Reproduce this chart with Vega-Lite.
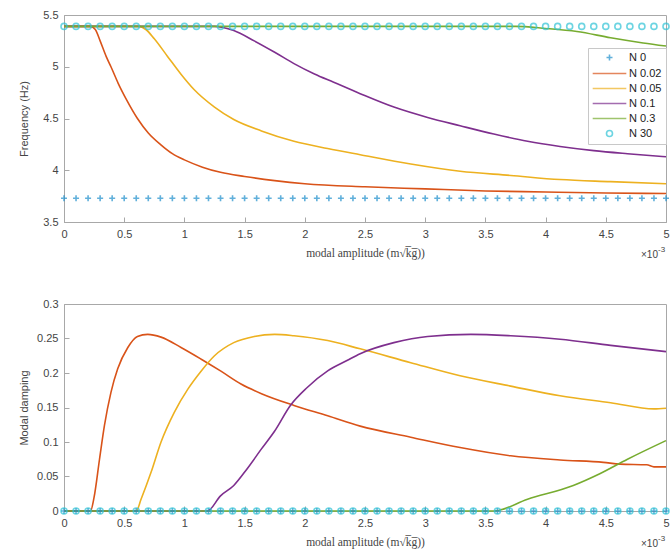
{
  "$schema": "https://vega.github.io/schema/vega-lite/v6.json",
  "background": "white",
  "padding": {"top": 8, "left": 17, "right": 5, "bottom": 5},
  "bounds": "flush",
  "spacing": 82,
  "datasets": {
    "freq": [
      {"x": 0, "s": "N 0.02", "f": 5.39}, {"x": 0.22, "s": "N 0.02", "f": 5.39}, {"x": 0.26, "s": "N 0.02", "f": 5.36}, {"x": 0.3, "s": "N 0.02", "f": 5.25}, {"x": 0.35, "s": "N 0.02", "f": 5.1}, {"x": 0.39, "s": "N 0.02", "f": 5.0}, {"x": 0.45, "s": "N 0.02", "f": 4.84}, {"x": 0.52, "s": "N 0.02", "f": 4.68}, {"x": 0.61, "s": "N 0.02", "f": 4.5}, {"x": 0.7, "s": "N 0.02", "f": 4.36}, {"x": 0.8, "s": "N 0.02", "f": 4.25}, {"x": 0.9, "s": "N 0.02", "f": 4.16}, {"x": 1.0, "s": "N 0.02", "f": 4.1}, {"x": 1.15, "s": "N 0.02", "f": 4.03}, {"x": 1.3, "s": "N 0.02", "f": 3.98}, {"x": 1.5, "s": "N 0.02", "f": 3.94}, {"x": 1.75, "s": "N 0.02", "f": 3.9}, {"x": 2.0, "s": "N 0.02", "f": 3.87}, {"x": 2.5, "s": "N 0.02", "f": 3.84}, {"x": 3.0, "s": "N 0.02", "f": 3.82}, {"x": 3.5, "s": "N 0.02", "f": 3.8}, {"x": 4.0, "s": "N 0.02", "f": 3.79}, {"x": 4.5, "s": "N 0.02", "f": 3.78}, {"x": 5.0, "s": "N 0.02", "f": 3.775},
      {"x": 0, "s": "N 0.05", "f": 5.39}, {"x": 0.62, "s": "N 0.05", "f": 5.39}, {"x": 0.68, "s": "N 0.05", "f": 5.36}, {"x": 0.75, "s": "N 0.05", "f": 5.27}, {"x": 0.86, "s": "N 0.05", "f": 5.1}, {"x": 0.97, "s": "N 0.05", "f": 4.93}, {"x": 1.08, "s": "N 0.05", "f": 4.78}, {"x": 1.25, "s": "N 0.05", "f": 4.61}, {"x": 1.41, "s": "N 0.05", "f": 4.49}, {"x": 1.64, "s": "N 0.05", "f": 4.38}, {"x": 1.91, "s": "N 0.05", "f": 4.28}, {"x": 2.19, "s": "N 0.05", "f": 4.21}, {"x": 2.46, "s": "N 0.05", "f": 4.15}, {"x": 2.88, "s": "N 0.05", "f": 4.06}, {"x": 3.29, "s": "N 0.05", "f": 3.99}, {"x": 3.71, "s": "N 0.05", "f": 3.95}, {"x": 4.12, "s": "N 0.05", "f": 3.91}, {"x": 4.54, "s": "N 0.05", "f": 3.89}, {"x": 5.0, "s": "N 0.05", "f": 3.87},
      {"x": 0, "s": "N 0.1", "f": 5.39}, {"x": 1.25, "s": "N 0.1", "f": 5.39}, {"x": 1.32, "s": "N 0.1", "f": 5.38}, {"x": 1.41, "s": "N 0.1", "f": 5.35}, {"x": 1.58, "s": "N 0.1", "f": 5.25}, {"x": 1.75, "s": "N 0.1", "f": 5.14}, {"x": 1.91, "s": "N 0.1", "f": 5.03}, {"x": 2.08, "s": "N 0.1", "f": 4.93}, {"x": 2.24, "s": "N 0.1", "f": 4.85}, {"x": 2.46, "s": "N 0.1", "f": 4.74}, {"x": 2.74, "s": "N 0.1", "f": 4.61}, {"x": 3.02, "s": "N 0.1", "f": 4.51}, {"x": 3.29, "s": "N 0.1", "f": 4.43}, {"x": 3.57, "s": "N 0.1", "f": 4.35}, {"x": 3.85, "s": "N 0.1", "f": 4.28}, {"x": 4.12, "s": "N 0.1", "f": 4.23}, {"x": 4.4, "s": "N 0.1", "f": 4.19}, {"x": 4.68, "s": "N 0.1", "f": 4.16}, {"x": 5.0, "s": "N 0.1", "f": 4.13},
      {"x": 0, "s": "N 0.3", "f": 5.39}, {"x": 3.75, "s": "N 0.3", "f": 5.39}, {"x": 4.0, "s": "N 0.3", "f": 5.37}, {"x": 4.26, "s": "N 0.3", "f": 5.34}, {"x": 4.54, "s": "N 0.3", "f": 5.28}, {"x": 4.81, "s": "N 0.3", "f": 5.23}, {"x": 5.0, "s": "N 0.3", "f": 5.2}
    ],
    "damp": [
      {"x": 0, "s": "N 0.02", "d": 0}, {"x": 0.22, "s": "N 0.02", "d": 0}, {"x": 0.25, "s": "N 0.02", "d": 0.02}, {"x": 0.295, "s": "N 0.02", "d": 0.075}, {"x": 0.336, "s": "N 0.02", "d": 0.124}, {"x": 0.39, "s": "N 0.02", "d": 0.172}, {"x": 0.446, "s": "N 0.02", "d": 0.206}, {"x": 0.53, "s": "N 0.02", "d": 0.237}, {"x": 0.61, "s": "N 0.02", "d": 0.253}, {"x": 0.695, "s": "N 0.02", "d": 0.256}, {"x": 0.806, "s": "N 0.02", "d": 0.252}, {"x": 0.972, "s": "N 0.02", "d": 0.237}, {"x": 1.14, "s": "N 0.02", "d": 0.22}, {"x": 1.3, "s": "N 0.02", "d": 0.203}, {"x": 1.47, "s": "N 0.02", "d": 0.184}, {"x": 1.64, "s": "N 0.02", "d": 0.17}, {"x": 1.91, "s": "N 0.02", "d": 0.153}, {"x": 2.19, "s": "N 0.02", "d": 0.138}, {"x": 2.46, "s": "N 0.02", "d": 0.123}, {"x": 2.88, "s": "N 0.02", "d": 0.107}, {"x": 3.29, "s": "N 0.02", "d": 0.092}, {"x": 3.71, "s": "N 0.02", "d": 0.08}, {"x": 4.12, "s": "N 0.02", "d": 0.074}, {"x": 4.48, "s": "N 0.02", "d": 0.0705}, {"x": 4.62, "s": "N 0.02", "d": 0.068}, {"x": 4.84, "s": "N 0.02", "d": 0.067}, {"x": 4.9, "s": "N 0.02", "d": 0.064}, {"x": 5.0, "s": "N 0.02", "d": 0.064},
      {"x": 0, "s": "N 0.05", "d": 0}, {"x": 0.6, "s": "N 0.05", "d": 0}, {"x": 0.64, "s": "N 0.05", "d": 0.017}, {"x": 0.723, "s": "N 0.05", "d": 0.056}, {"x": 0.806, "s": "N 0.05", "d": 0.1}, {"x": 0.916, "s": "N 0.05", "d": 0.143}, {"x": 1.03, "s": "N 0.05", "d": 0.177}, {"x": 1.14, "s": "N 0.05", "d": 0.203}, {"x": 1.25, "s": "N 0.05", "d": 0.225}, {"x": 1.41, "s": "N 0.05", "d": 0.244}, {"x": 1.58, "s": "N 0.05", "d": 0.253}, {"x": 1.75, "s": "N 0.05", "d": 0.256}, {"x": 1.91, "s": "N 0.05", "d": 0.254}, {"x": 2.19, "s": "N 0.05", "d": 0.247}, {"x": 2.46, "s": "N 0.05", "d": 0.235}, {"x": 2.88, "s": "N 0.05", "d": 0.215}, {"x": 3.29, "s": "N 0.05", "d": 0.196}, {"x": 3.71, "s": "N 0.05", "d": 0.181}, {"x": 4.12, "s": "N 0.05", "d": 0.167}, {"x": 4.54, "s": "N 0.05", "d": 0.157}, {"x": 4.9, "s": "N 0.05", "d": 0.148}, {"x": 5.0, "s": "N 0.05", "d": 0.149},
      {"x": 0, "s": "N 0.1", "d": 0}, {"x": 1.19, "s": "N 0.1", "d": 0}, {"x": 1.3, "s": "N 0.1", "d": 0.022}, {"x": 1.41, "s": "N 0.1", "d": 0.037}, {"x": 1.52, "s": "N 0.1", "d": 0.061}, {"x": 1.64, "s": "N 0.1", "d": 0.09}, {"x": 1.75, "s": "N 0.1", "d": 0.116}, {"x": 1.88, "s": "N 0.1", "d": 0.153}, {"x": 2.02, "s": "N 0.1", "d": 0.179}, {"x": 2.19, "s": "N 0.1", "d": 0.203}, {"x": 2.35, "s": "N 0.1", "d": 0.218}, {"x": 2.46, "s": "N 0.1", "d": 0.228}, {"x": 2.74, "s": "N 0.1", "d": 0.244}, {"x": 3.02, "s": "N 0.1", "d": 0.253}, {"x": 3.38, "s": "N 0.1", "d": 0.256}, {"x": 3.71, "s": "N 0.1", "d": 0.254}, {"x": 4.12, "s": "N 0.1", "d": 0.249}, {"x": 4.54, "s": "N 0.1", "d": 0.24}, {"x": 5.0, "s": "N 0.1", "d": 0.231},
      {"x": 0, "s": "N 0.3", "d": 0}, {"x": 3.57, "s": "N 0.3", "d": 0}, {"x": 3.85, "s": "N 0.3", "d": 0.017}, {"x": 4.23, "s": "N 0.3", "d": 0.037}, {"x": 4.45, "s": "N 0.3", "d": 0.054}, {"x": 4.68, "s": "N 0.3", "d": 0.075}, {"x": 5.0, "s": "N 0.3", "d": 0.102}
    ],
    "markers": [
      {"x": 0, "s": "N 0", "f": 3.73, "d": 0}, {"x": 0.1, "s": "N 0", "f": 3.73, "d": 0}, {"x": 0.2, "s": "N 0", "f": 3.73, "d": 0}, {"x": 0.3, "s": "N 0", "f": 3.73, "d": 0}, {"x": 0.4, "s": "N 0", "f": 3.73, "d": 0}, {"x": 0.5, "s": "N 0", "f": 3.73, "d": 0}, {"x": 0.6, "s": "N 0", "f": 3.73, "d": 0}, {"x": 0.7, "s": "N 0", "f": 3.73, "d": 0}, {"x": 0.8, "s": "N 0", "f": 3.73, "d": 0}, {"x": 0.9, "s": "N 0", "f": 3.73, "d": 0},
      {"x": 1.0, "s": "N 0", "f": 3.73, "d": 0}, {"x": 1.1, "s": "N 0", "f": 3.73, "d": 0}, {"x": 1.2, "s": "N 0", "f": 3.73, "d": 0}, {"x": 1.3, "s": "N 0", "f": 3.73, "d": 0}, {"x": 1.4, "s": "N 0", "f": 3.73, "d": 0}, {"x": 1.5, "s": "N 0", "f": 3.73, "d": 0}, {"x": 1.6, "s": "N 0", "f": 3.73, "d": 0}, {"x": 1.7, "s": "N 0", "f": 3.73, "d": 0}, {"x": 1.8, "s": "N 0", "f": 3.73, "d": 0}, {"x": 1.9, "s": "N 0", "f": 3.73, "d": 0},
      {"x": 2.0, "s": "N 0", "f": 3.73, "d": 0}, {"x": 2.1, "s": "N 0", "f": 3.73, "d": 0}, {"x": 2.2, "s": "N 0", "f": 3.73, "d": 0}, {"x": 2.3, "s": "N 0", "f": 3.73, "d": 0}, {"x": 2.4, "s": "N 0", "f": 3.73, "d": 0}, {"x": 2.5, "s": "N 0", "f": 3.73, "d": 0}, {"x": 2.6, "s": "N 0", "f": 3.73, "d": 0}, {"x": 2.7, "s": "N 0", "f": 3.73, "d": 0}, {"x": 2.8, "s": "N 0", "f": 3.73, "d": 0}, {"x": 2.9, "s": "N 0", "f": 3.73, "d": 0},
      {"x": 3.0, "s": "N 0", "f": 3.73, "d": 0}, {"x": 3.1, "s": "N 0", "f": 3.73, "d": 0}, {"x": 3.2, "s": "N 0", "f": 3.73, "d": 0}, {"x": 3.3, "s": "N 0", "f": 3.73, "d": 0}, {"x": 3.4, "s": "N 0", "f": 3.73, "d": 0}, {"x": 3.5, "s": "N 0", "f": 3.73, "d": 0}, {"x": 3.6, "s": "N 0", "f": 3.73, "d": 0}, {"x": 3.7, "s": "N 0", "f": 3.73, "d": 0}, {"x": 3.8, "s": "N 0", "f": 3.73, "d": 0}, {"x": 3.9, "s": "N 0", "f": 3.73, "d": 0},
      {"x": 4.0, "s": "N 0", "f": 3.73, "d": 0}, {"x": 4.1, "s": "N 0", "f": 3.73, "d": 0}, {"x": 4.2, "s": "N 0", "f": 3.73, "d": 0}, {"x": 4.3, "s": "N 0", "f": 3.73, "d": 0}, {"x": 4.4, "s": "N 0", "f": 3.73, "d": 0}, {"x": 4.5, "s": "N 0", "f": 3.73, "d": 0}, {"x": 4.6, "s": "N 0", "f": 3.73, "d": 0}, {"x": 4.7, "s": "N 0", "f": 3.73, "d": 0}, {"x": 4.8, "s": "N 0", "f": 3.73, "d": 0}, {"x": 4.9, "s": "N 0", "f": 3.73, "d": 0}, {"x": 5.0, "s": "N 0", "f": 3.73, "d": 0},
      {"x": 0, "s": "N 30", "f": 5.39, "d": 0}, {"x": 0.1, "s": "N 30", "f": 5.39, "d": 0}, {"x": 0.2, "s": "N 30", "f": 5.39, "d": 0}, {"x": 0.3, "s": "N 30", "f": 5.39, "d": 0}, {"x": 0.4, "s": "N 30", "f": 5.39, "d": 0}, {"x": 0.5, "s": "N 30", "f": 5.39, "d": 0}, {"x": 0.6, "s": "N 30", "f": 5.39, "d": 0}, {"x": 0.7, "s": "N 30", "f": 5.39, "d": 0}, {"x": 0.8, "s": "N 30", "f": 5.39, "d": 0}, {"x": 0.9, "s": "N 30", "f": 5.39, "d": 0},
      {"x": 1.0, "s": "N 30", "f": 5.39, "d": 0}, {"x": 1.1, "s": "N 30", "f": 5.39, "d": 0}, {"x": 1.2, "s": "N 30", "f": 5.39, "d": 0}, {"x": 1.3, "s": "N 30", "f": 5.39, "d": 0}, {"x": 1.4, "s": "N 30", "f": 5.39, "d": 0}, {"x": 1.5, "s": "N 30", "f": 5.39, "d": 0}, {"x": 1.6, "s": "N 30", "f": 5.39, "d": 0}, {"x": 1.7, "s": "N 30", "f": 5.39, "d": 0}, {"x": 1.8, "s": "N 30", "f": 5.39, "d": 0}, {"x": 1.9, "s": "N 30", "f": 5.39, "d": 0},
      {"x": 2.0, "s": "N 30", "f": 5.39, "d": 0}, {"x": 2.1, "s": "N 30", "f": 5.39, "d": 0}, {"x": 2.2, "s": "N 30", "f": 5.39, "d": 0}, {"x": 2.3, "s": "N 30", "f": 5.39, "d": 0}, {"x": 2.4, "s": "N 30", "f": 5.39, "d": 0}, {"x": 2.5, "s": "N 30", "f": 5.39, "d": 0}, {"x": 2.6, "s": "N 30", "f": 5.39, "d": 0}, {"x": 2.7, "s": "N 30", "f": 5.39, "d": 0}, {"x": 2.8, "s": "N 30", "f": 5.39, "d": 0}, {"x": 2.9, "s": "N 30", "f": 5.39, "d": 0},
      {"x": 3.0, "s": "N 30", "f": 5.39, "d": 0}, {"x": 3.1, "s": "N 30", "f": 5.39, "d": 0}, {"x": 3.2, "s": "N 30", "f": 5.39, "d": 0}, {"x": 3.3, "s": "N 30", "f": 5.39, "d": 0}, {"x": 3.4, "s": "N 30", "f": 5.39, "d": 0}, {"x": 3.5, "s": "N 30", "f": 5.39, "d": 0}, {"x": 3.6, "s": "N 30", "f": 5.39, "d": 0}, {"x": 3.7, "s": "N 30", "f": 5.39, "d": 0}, {"x": 3.8, "s": "N 30", "f": 5.39, "d": 0}, {"x": 3.9, "s": "N 30", "f": 5.39, "d": 0},
      {"x": 4.0, "s": "N 30", "f": 5.39, "d": 0}, {"x": 4.1, "s": "N 30", "f": 5.39, "d": 0}, {"x": 4.2, "s": "N 30", "f": 5.39, "d": 0}, {"x": 4.3, "s": "N 30", "f": 5.39, "d": 0}, {"x": 4.4, "s": "N 30", "f": 5.39, "d": 0}, {"x": 4.5, "s": "N 30", "f": 5.39, "d": 0}, {"x": 4.6, "s": "N 30", "f": 5.39, "d": 0}, {"x": 4.7, "s": "N 30", "f": 5.39, "d": 0}, {"x": 4.8, "s": "N 30", "f": 5.39, "d": 0}, {"x": 4.9, "s": "N 30", "f": 5.39, "d": 0}, {"x": 5.0, "s": "N 30", "f": 5.39, "d": 0}
    ],
    "note": [{"x": 5, "b": "×10", "e": "-3"}]
  },
  "resolve": {"scale": {"color": "independent", "shape": "independent"}, "legend": {"color": "independent", "shape": "independent"}},
  "vconcat": [
    {
      "width": 602,
      "height": 207,
      "resolve": {"axis": {"x": "independent", "y": "independent"}},
      "layer": [
        {
          "data": {"name": "freq"},
          "mark": {"type": "line", "strokeWidth": 1.6, "interpolate": "monotone"},
          "encoding": {
            "x": {"field": "x", "type": "quantitative", "scale": {"domain": [0, 5], "nice": false, "zero": false},
                  "axis": {"orient": "bottom", "values": [0, 0.5, 1, 1.5, 2, 2.5, 3, 3.5, 4, 4.5, 5], "format": "~g", "title": "modal amplitude (m√k̅g̅))", "titleFont": "Liberation Serif", "titleFontSize": 11.5, "titleY": 25, "titleBaseline": "top"}},
            "y": {"field": "f", "type": "quantitative", "scale": {"domain": [3.5, 5.5], "nice": false, "zero": false},
                  "axis": {"orient": "left", "values": [3.5, 4, 4.5, 5, 5.5], "format": "~g", "title": "Frequency (Hz)", "titleX": -35}},
            "color": {"field": "s", "type": "nominal",
                      "scale": {"domain": ["N 0", "N 0.02", "N 0.05", "N 0.1", "N 0.3", "N 30"], "range": ["#1f8fcc", "#d95319", "#edb120", "#7e2f8e", "#77ac30", "#2fc3d6"]},
                      "legend": {"orient": "none", "legendX": 524, "legendY": 33, "title": null, "symbolSize": 36, "symbolStrokeWidth": 1.6, "labelFont": "Liberation Sans", "labelFontSize": 11, "labelColor": "#222222", "strokeColor": "#c8c8c8", "fillColor": "white", "padding": 4, "rowPadding": 3, "symbolOffset": 12, "labelOffset": 14}}
          }
        },
        {
          "data": {"name": "markers"},
          "mark": {"type": "point", "filled": false, "strokeWidth": 1.6, "size": 36},
          "encoding": {
            "x": {"field": "x", "type": "quantitative", "axis": null},
            "y": {"field": "f", "type": "quantitative", "axis": null},
            "color": {"field": "s", "type": "nominal",
                      "scale": {"domain": ["N 0", "N 0.02", "N 0.05", "N 0.1", "N 0.3", "N 30"], "range": ["#1f8fcc", "#d95319", "#edb120", "#7e2f8e", "#77ac30", "#2fc3d6"]},
                      "legend": {"orient": "none", "legendX": 524, "legendY": 33, "title": null, "symbolSize": 36, "symbolStrokeWidth": 1.6, "labelFont": "Liberation Sans", "labelFontSize": 11, "labelColor": "#222222", "strokeColor": "#c8c8c8", "fillColor": "white", "padding": 4, "rowPadding": 3, "symbolOffset": 12, "labelOffset": 14}},
            "shape": {"field": "s", "type": "nominal",
                      "scale": {"domain": ["N 0", "N 0.02", "N 0.05", "N 0.1", "N 0.3", "N 30"], "range": ["M-1,0L1,0M0,-1L0,1", "M-5.6,0L5.6,0", "M-5.6,0L5.6,0", "M-5.6,0L5.6,0", "M-5.6,0L5.6,0", "circle"]}}
          }
        },
        {
          "data": {"name": "note"},
          "mark": {"type": "text", "align": "right", "baseline": "top", "dx": -8, "dy": 28, "font": "Liberation Sans", "fontSize": 10, "color": "#444444"},
          "encoding": {
            "x": {"field": "x", "type": "quantitative", "axis": null},
            "y": {"datum": 3.5, "type": "quantitative", "axis": null},
            "text": {"field": "b"}
          }
        },
        {
          "data": {"name": "note"},
          "mark": {"type": "text", "align": "left", "baseline": "top", "dx": -8, "dy": 24, "font": "Liberation Sans", "fontSize": 8, "color": "#444444"},
          "encoding": {
            "x": {"field": "x", "type": "quantitative", "axis": null},
            "y": {"datum": 3.5, "type": "quantitative", "axis": null},
            "text": {"field": "e"}
          }
        }
      ]
    },
    {
      "width": 602,
      "height": 207,
      "resolve": {"axis": {"x": "independent", "y": "independent"}},
      "layer": [
        {
          "data": {"name": "damp"},
          "mark": {"type": "line", "strokeWidth": 1.6, "interpolate": "monotone"},
          "encoding": {
            "x": {"field": "x", "type": "quantitative", "scale": {"domain": [0, 5], "nice": false, "zero": false},
                  "axis": {"orient": "bottom", "values": [0, 0.5, 1, 1.5, 2, 2.5, 3, 3.5, 4, 4.5, 5], "format": "~g", "title": "modal amplitude (m√k̅g̅))", "titleFont": "Liberation Serif", "titleFontSize": 11.5, "titleY": 25, "titleBaseline": "top"}},
            "y": {"field": "d", "type": "quantitative", "scale": {"domain": [0, 0.3], "nice": false},
                  "axis": {"orient": "left", "values": [0, 0.05, 0.1, 0.15, 0.2, 0.25, 0.3], "format": "~g", "title": "Modal damping", "titleX": -35}},
            "color": {"field": "s", "type": "nominal",
                      "scale": {"domain": ["N 0", "N 0.02", "N 0.05", "N 0.1", "N 0.3", "N 30"], "range": ["#1f8fcc", "#d95319", "#edb120", "#7e2f8e", "#77ac30", "#2fc3d6"]},
                      "legend": null}
          }
        },
        {
          "data": {"name": "markers"},
          "mark": {"type": "point", "filled": false, "strokeWidth": 1.6, "size": 36},
          "encoding": {
            "x": {"field": "x", "type": "quantitative", "axis": null},
            "y": {"field": "d", "type": "quantitative", "axis": null},
            "color": {"field": "s", "type": "nominal",
                      "scale": {"domain": ["N 0", "N 0.02", "N 0.05", "N 0.1", "N 0.3", "N 30"], "range": ["#1f8fcc", "#d95319", "#edb120", "#7e2f8e", "#77ac30", "#2fc3d6"]},
                      "legend": null},
            "shape": {"field": "s", "type": "nominal",
                      "scale": {"domain": ["N 0", "N 0.02", "N 0.05", "N 0.1", "N 0.3", "N 30"], "range": ["M-1,0L1,0M0,-1L0,1", "M-5.6,0L5.6,0", "M-5.6,0L5.6,0", "M-5.6,0L5.6,0", "M-5.6,0L5.6,0", "circle"]},
                      "legend": null}
          }
        },
        {
          "data": {"name": "note"},
          "mark": {"type": "text", "align": "right", "baseline": "top", "dx": -8, "dy": 28, "font": "Liberation Sans", "fontSize": 10, "color": "#444444"},
          "encoding": {
            "x": {"field": "x", "type": "quantitative", "axis": null},
            "y": {"datum": 0, "type": "quantitative", "axis": null},
            "text": {"field": "b"}
          }
        },
        {
          "data": {"name": "note"},
          "mark": {"type": "text", "align": "left", "baseline": "top", "dx": -8, "dy": 24, "font": "Liberation Sans", "fontSize": 8, "color": "#444444"},
          "encoding": {
            "x": {"field": "x", "type": "quantitative", "axis": null},
            "y": {"datum": 0, "type": "quantitative", "axis": null},
            "text": {"field": "e"}
          }
        }
      ]
    }
  ],
  "config": {
    "view": {"stroke": "#a8a8a8", "strokeWidth": 1},
    "axis": {
      "grid": false,
      "domainColor": "#a8a8a8",
      "domainWidth": 1,
      "tickColor": "#a8a8a8",
      "tickSize": -5,
      "tickWidth": 1,
      "labelPadding": 11,
      "labelFont": "Liberation Sans",
      "labelFontSize": 11,
      "labelColor": "#444444",
      "labelFlush": false,
      "labelOverlap": false,
      "titleFont": "Liberation Sans",
      "titleFontSize": 11,
      "titleFontWeight": "normal",
      "titleColor": "#444444"
    }
  }
}
